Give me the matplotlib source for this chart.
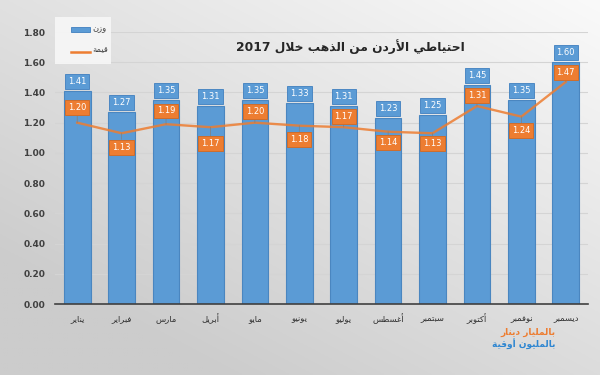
import numpy as np
import matplotlib
matplotlib.use("Agg")
import matplotlib.pyplot as plt
from matplotlib.patches import Rectangle
from matplotlib.lines import Line2D

# ---------------- data ----------------
months = ["يناير", "فبراير", "مارس", "أبريل", "مايو", "يونيو",
          "يوليو", "أغسطس", "سبتمبر", "أكتوبر", "نوفمبر", "ديسمبر"]
weight = [1.41, 1.27, 1.35, 1.31, 1.35, 1.33, 1.31, 1.23, 1.25, 1.45, 1.35, 1.60]
value = [1.20, 1.13, 1.19, 1.17, 1.20, 1.18, 1.17, 1.14, 1.13, 1.31, 1.24, 1.47]
yticks = [0.0, 0.2, 0.4, 0.6, 0.8, 1.0, 1.2, 1.4, 1.6, 1.8]
title = "احتياطي الأردن من الذهب خلال 2017"
legend_weight = "وزن"
legend_value = "قيمة"
unit_value = "بالمليار دينار"
unit_weight = "بالمليون أوقية"

# label placement offsets (points) for value labels: style only
value_label_offsets = [11, -10, 9.5, -12, 8, -10, 8, -8, -7.5, 7.5, -10, 6.5]

# ---------------- minimal Arabic shaping ----------------
FORMS = {
    0x0621: (0xFE80, None, None, None),
    0x0622: (0xFE81, 0xFE82, None, None),
    0x0623: (0xFE83, 0xFE84, None, None),
    0x0624: (0xFE85, 0xFE86, None, None),
    0x0625: (0xFE87, 0xFE88, None, None),
    0x0626: (0xFE89, 0xFE8A, 0xFE8B, 0xFE8C),
    0x0627: (0xFE8D, 0xFE8E, None, None),
    0x0628: (0xFE8F, 0xFE90, 0xFE91, 0xFE92),
    0x0629: (0xFE93, 0xFE94, None, None),
    0x062A: (0xFE95, 0xFE96, 0xFE97, 0xFE98),
    0x062B: (0xFE99, 0xFE9A, 0xFE9B, 0xFE9C),
    0x062C: (0xFE9D, 0xFE9E, 0xFE9F, 0xFEA0),
    0x062D: (0xFEA1, 0xFEA2, 0xFEA3, 0xFEA4),
    0x062E: (0xFEA5, 0xFEA6, 0xFEA7, 0xFEA8),
    0x062F: (0xFEA9, 0xFEAA, None, None),
    0x0630: (0xFEAB, 0xFEAC, None, None),
    0x0631: (0xFEAD, 0xFEAE, None, None),
    0x0632: (0xFEAF, 0xFEB0, None, None),
    0x0633: (0xFEB1, 0xFEB2, 0xFEB3, 0xFEB4),
    0x0634: (0xFEB5, 0xFEB6, 0xFEB7, 0xFEB8),
    0x0635: (0xFEB9, 0xFEBA, 0xFEBB, 0xFEBC),
    0x0636: (0xFEBD, 0xFEBE, 0xFEBF, 0xFEC0),
    0x0637: (0xFEC1, 0xFEC2, 0xFEC3, 0xFEC4),
    0x0638: (0xFEC5, 0xFEC6, 0xFEC7, 0xFEC8),
    0x0639: (0xFEC9, 0xFECA, 0xFECB, 0xFECC),
    0x063A: (0xFECD, 0xFECE, 0xFECF, 0xFED0),
    0x0641: (0xFED1, 0xFED2, 0xFED3, 0xFED4),
    0x0642: (0xFED5, 0xFED6, 0xFED7, 0xFED8),
    0x0643: (0xFED9, 0xFEDA, 0xFEDB, 0xFEDC),
    0x0644: (0xFEDD, 0xFEDE, 0xFEDF, 0xFEE0),
    0x0645: (0xFEE1, 0xFEE2, 0xFEE3, 0xFEE4),
    0x0646: (0xFEE5, 0xFEE6, 0xFEE7, 0xFEE8),
    0x0647: (0xFEE9, 0xFEEA, 0xFEEB, 0xFEEC),
    0x0648: (0xFEED, 0xFEEE, None, None),
    0x0649: (0xFEEF, 0xFEF0, None, None),
    0x064A: (0xFEF1, 0xFEF2, 0xFEF3, 0xFEF4),
}
LAMALEF = {0x0622: (0xFEF5, 0xFEF6), 0x0623: (0xFEF7, 0xFEF8),
           0x0625: (0xFEF9, 0xFEFA), 0x0627: (0xFEFB, 0xFEFC)}


def dual(c):
    f = FORMS.get(ord(c))
    return f is not None and f[2] is not None


def arabic(c):
    return ord(c) in FORMS


def shape(s):
    out = []
    i = 0
    n = len(s)
    while i < n:
        c = s[i]
        if not arabic(c):
            out.append(c)
            i += 1
            continue
        prev_join = i > 0 and dual(s[i - 1])
        if ord(c) == 0x0644 and i + 1 < n and ord(s[i + 1]) in LAMALEF:
            iso, fin = LAMALEF[ord(s[i + 1])]
            out.append(chr(fin if prev_join else iso))
            i += 2
            continue
        next_join = dual(c) and i + 1 < n and arabic(s[i + 1])
        iso, fin, ini, med = FORMS[ord(c)]
        if prev_join and next_join:
            g = med
        elif prev_join:
            g = fin
        elif next_join:
            g = ini
        else:
            g = iso
        out.append(chr(g))
        i += 1
    shaped = "".join(out)
    rev = shaped[::-1]
    res = []
    run = ""
    for ch in rev:
        if ch.isdigit() or (ch == "." and run):
            run += ch
        else:
            if run:
                res.append(run[::-1])
                run = ""
            res.append(ch)
    if run:
        res.append(run[::-1])
    return "".join(res)


# ---------------- figure ----------------
W, H = 600, 375
fig = plt.figure(figsize=(6, 3.75), dpi=100)

# background gradient
bg = fig.add_axes([0, 0, 1, 1], zorder=-10)
yy, xx = np.mgrid[0:1:200j, 0:1:320j]
t = np.clip(0.55 * (1 - xx) + 0.65 * yy, 0, 1)
top = np.array([0.98, 0.98, 0.98])
bot = np.array([0.80, 0.80, 0.80])
img = top[None, None, :] * (1 - t[..., None]) + bot[None, None, :] * t[..., None]
bg.imshow(img, aspect="auto", extent=[0, 1, 0, 1], origin="upper")
bg.set_axis_off()

ax = fig.add_axes([55 / W, 1 - 304 / H, (588 - 55) / W, (304 - 32) / H])
ax.patch.set_alpha(0)

x = np.arange(len(months))
bar_color = "#5B9BD5"
orange = "#ED7D31"

ax.bar(x, weight, width=0.6, color=bar_color, edgecolor="#4A86C0",
       linewidth=0.8, zorder=2)
ax.plot(x, value, color=orange, lw=1.7, alpha=0.85, zorder=3)

ax.set_ylim(0, 1.8)
ax.set_xlim(-0.5, len(months) - 0.5)
ax.set_yticks(yticks)
ax.set_yticklabels([f"{v:.2f}" for v in yticks], fontsize=6.5,
                   fontweight="bold", color="#404040")
ax.set_xticks(x)
ax.set_xticklabels([shape(m) for m in months], fontsize=6, color="#303030")
ax.tick_params(axis="y", length=0, pad=7)
ax.tick_params(axis="x", length=0, pad=7)
ax.grid(axis="y", color="#D4D4D4", lw=0.8, zorder=0)
for sp in ["top", "right", "left"]:
    ax.spines[sp].set_visible(False)
ax.spines["bottom"].set_color("#404040")
ax.spines["bottom"].set_linewidth(1.2)

# weight labels
for xi, w in zip(x, weight):
    ax.annotate(f"{w:.2f}", (xi, w), xytext=(0, 7), textcoords="offset points",
                ha="center", va="center", fontsize=6, color="white",
                zorder=6,
                bbox=dict(boxstyle="square,pad=0.35", fc=bar_color,
                          ec="#3F7FBF", lw=0.6))

# value labels
for xi, v, off in zip(x, value, value_label_offsets):
    ax.annotate(f"{v:.2f}", (xi, v), xytext=(0, off), textcoords="offset points",
                ha="center", va="center", fontsize=6, color="white",
                zorder=7,
                arrowprops=dict(arrowstyle="-", color="#7F7F7F", lw=0.5,
                                shrinkA=0, shrinkB=0),
                bbox=dict(boxstyle="square,pad=0.35", fc=orange,
                          ec="#D5691F", lw=0.6))

# title
fig.text(350 / W, 1 - 47 / H, shape(title), ha="center", va="center",
         fontsize=8.8, fontweight="bold", color="#262626")

# legend box
fig.patches.append(Rectangle((55 / W, 1 - 64 / H), 56 / W, 47 / H,
                             transform=fig.transFigure, fc="#F7F7F7",
                             ec="none", alpha=0.9, zorder=1))
fig.patches.append(Rectangle((71 / W, 1 - 32 / H), 19 / W, 5 / H,
                             transform=fig.transFigure, fc=bar_color,
                             ec="#3F7FBF", lw=0.6, zorder=2))
fig.lines.append(Line2D([71 / W, 90 / W], [1 - 52 / H, 1 - 52 / H],
                        transform=fig.transFigure, color=orange, lw=1.8,
                        zorder=2))
fig.text(92 / W, 1 - 29 / H, shape(legend_weight), ha="left", va="center",
         fontsize=6, color="#404040")
fig.text(92 / W, 1 - 50 / H, shape(legend_value), ha="left", va="center",
         fontsize=6, color="#404040")

# unit notes
fig.text(556 / W, 1 - 332 / H, shape(unit_value), ha="right",
         va="center", fontsize=6.5, fontweight="bold", color=orange)
fig.text(556 / W, 1 - 344 / H, shape(unit_weight), ha="right",
         va="center", fontsize=6.5, fontweight="bold", color="#2E86D1")

fig.savefig("out.png", dpi=100)
